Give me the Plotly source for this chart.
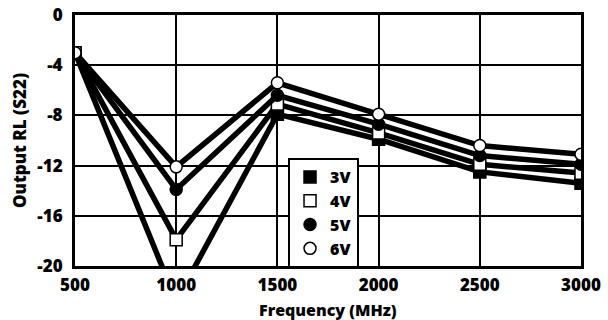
import plotly.graph_objects as go

freq = [500, 1000, 1500, 2000, 2500, 3000]
rl_3v = [-3.0, -22.8, -7.9, -9.9, -12.5, -13.4]
rl_4v = [-3.0, -17.9, -7.1, -9.4, -11.9, -12.6]
rl_5v = [-3.0, -13.9, -6.4, -8.7, -11.2, -11.9]
rl_6v = [-3.0, -12.1, -5.4, -7.9, -10.4, -11.1]
names = ["3V", "4V", "5V", "6V"]
x_ticks = [500, 1000, 1500, 2000, 2500, 3000]
y_ticks = [0, -4, -8, -12, -16, -20]

series = [rl_3v, rl_4v, rl_5v, rl_6v]
symbols = ["square", "square", "circle", "circle"]
fills = ["black", "white", "black", "white"]

FONT = "Open Sans"
W = 800
fig = go.Figure()
for name, ys, sym, fc in zip(names, series, symbols, fills):
    fig.add_trace(go.Scatter(
        x=freq, y=ys, mode="lines+markers", showlegend=False,
        line=dict(color="black", width=5.5),
        marker=dict(symbol=sym, size=12, color=fc, line=dict(color="black", width=1.5)),
    ))
for name, sym, fc in zip(names, symbols, fills):
    fig.add_trace(go.Scatter(
        x=[None], y=[None], mode="markers", name=name,
        marker=dict(symbol=sym, size=12, color=fc, line=dict(color="black", width=1.5)),
    ))

fig.update_layout(
    width=608, height=320,
    margin=dict(l=75, r=27, t=15, b=54, autoexpand=False),
    paper_bgcolor="white", plot_bgcolor="white",
    font=dict(family=FONT, color="black", size=17),
    showlegend=True,
    legend=dict(
        x=0.421, y=0.43, xanchor="left", yanchor="top",
        bgcolor="white", bordercolor="black", borderwidth=2,
        font=dict(family=FONT, size=16, color="black", weight=W),
        itemwidth=30, tracegroupgap=0,
    ),
    xaxis=dict(
        range=[500, 3000], tickvals=x_ticks, ticktext=[str(v) for v in x_ticks],
        showgrid=True, gridcolor="black", gridwidth=2,
        showline=True, linecolor="black", linewidth=3, mirror=True,
        ticks="", zeroline=False, automargin=False, ticklabelstandoff=2,
        tickfont=dict(family=FONT, size=17, weight=W),
    ),
    yaxis=dict(
        range=[-20, 0], tickvals=y_ticks, ticktext=[str(v) for v in y_ticks],
        showgrid=True, gridcolor="black", gridwidth=2,
        showline=True, linecolor="black", linewidth=3, mirror=True,
        ticks="", zeroline=False, automargin=False, ticklabelstandoff=6,
        tickfont=dict(family=FONT, size=17, weight=W),
        title=dict(text="Output RL (S22)", font=dict(family=FONT, size=17, weight=W), standoff=7),
    ),
    annotations=[dict(
        text="Frequency (MHz)", xref="paper", yref="paper", x=0.5, y=-0.174,
        xanchor="center", yanchor="middle", showarrow=False,
        font=dict(family=FONT, size=16, weight=W, color="black"),
    )],
)
fig.write_html("out.html", config={"displayModeBar": False},
               post_script="document.body.style.margin='0';document.body.style.padding='0';")
